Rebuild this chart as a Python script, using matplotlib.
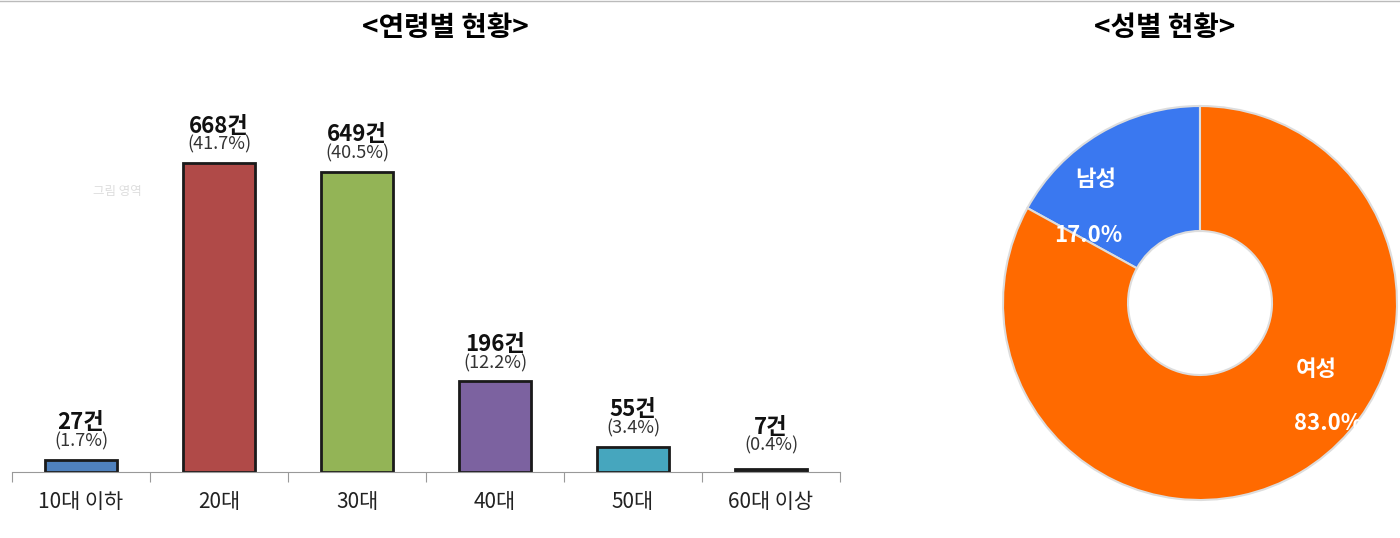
import matplotlib.pyplot as plt
import numpy as np

plt.rcParams['font.family'] = ['Noto Sans CJK KR', 'DejaVu Sans']

ages = ["10대 이하", "20대", "30대", "40대", "50대", "60대 이상"]
counts = [27, 668, 649, 196, 55, 7]
pcts = [1.7, 41.7, 40.5, 12.2, 3.4, 0.4]
bar_colors = ['#4F81BD', '#B04A48', '#93B456', '#7C62A0', '#46A6BE', '#3A3A3A']

genders = ["남성", "여성"]
gender_pcts = [17.0, 83.0]
gender_colors = ['#3A78F0', '#FF6A00']

fig = plt.figure(figsize=(14, 5.38), dpi=100)
fig.add_artist(plt.Line2D([0, 1], [0.999, 0.999], color='#BBBBBB', lw=1))

# bar chart
ax = fig.add_axes([12/1400, 66/538, 828/1400, 412/538])
x = np.arange(len(ages))
ax.bar(x, counts, width=0.52, color=bar_colors, edgecolor='#1A1A1A', linewidth=2)
ax.set_xlim(-0.5, 5.5)
ax.set_ylim(0, 668 * 412 / 309)
for s in ['top', 'right', 'left']:
    ax.spines[s].set_visible(False)
ax.spines['bottom'].set_color('#999999')
ax.set_yticks([])
ax.set_xticks(np.arange(-0.5, 6, 1), minor=False)
ax.set_xticklabels([])
ax.tick_params(axis='x', length=7, color='#999999')
for i, a in enumerate(ages):
    ax.text(i, -40, a, ha='center', va='top', fontsize=15, color='#222222')
    off = 35 if i != 5 else 45
    ax.text(i, counts[i] + off + 20, f"{counts[i]}건", ha='center', va='bottom',
            fontsize=16, fontweight='bold', color='#111111')
    ax.text(i, counts[i] + off - 15, f"({pcts[i]}%)", ha='center', va='bottom',
            fontsize=13, color='#333333')
ax.text(105 / 828 * 6 - 0.5, 668 * 412 / 309 * (472 - 192) / 412, "그림 영역",
        ha='center', va='center', fontsize=9, color='#DDDDDD')
fig.text(445/1400, 1 - 28/538, "<연령별 현황>", ha='center', va='center',
         fontsize=20, fontweight='bold')

# donut
pax = fig.add_axes([1000/1400, 35/538, 400/1400, 400/538])
r = 197 / 200
pax.pie(gender_pcts, colors=gender_colors, startangle=90, counterclock=True,
        radius=r, wedgeprops=dict(width=r - 72/200, edgecolor='#DDDDDD', linewidth=1.5))
pax.set_xlim(-1, 1)
pax.set_ylim(-1, 1)
pax.set_aspect('equal')
pax.axis('off')
pax.text(-0.52, 0.62, "남성", ha='center', va='center', fontsize=16,
         fontweight='bold', color='white')
pax.text(-0.56, 0.34, "17.0%", ha='center', va='center', fontsize=16,
         fontweight='bold', color='white')
pax.text(0.58, -0.33, "여성", ha='center', va='center', fontsize=16,
         fontweight='bold', color='white')
pax.text(0.64, -0.6, "83.0%", ha='center', va='center', fontsize=16,
         fontweight='bold', color='white')
fig.text(1165/1400, 1 - 28/538, "<성별 현황>", ha='center', va='center',
         fontsize=20, fontweight='bold')

fig.savefig("out.png")
